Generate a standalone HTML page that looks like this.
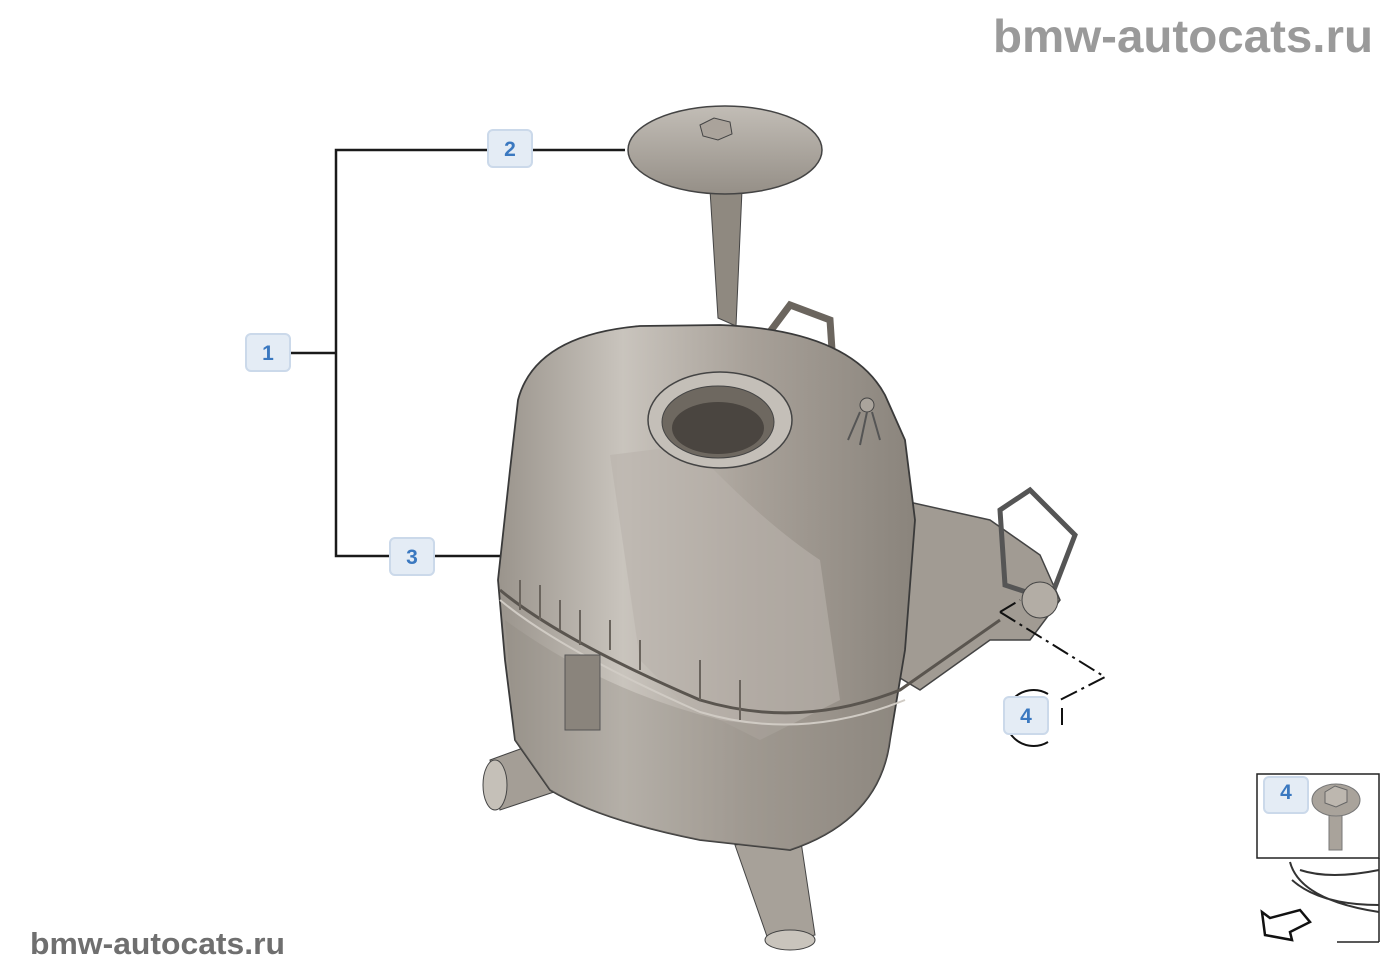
<!DOCTYPE html>
<html><head><meta charset="utf-8"><style>
html,body{margin:0;padding:0;background:#fff;}
svg{display:block}
.lb{fill:#e4ecf5;stroke:#cbd9ea;stroke-width:2}
.lt{font-family:"Liberation Sans",sans-serif;font-weight:bold;font-size:21px;fill:#3a78c0;text-anchor:middle}
.wm{font-family:"Liberation Sans",sans-serif;font-weight:bold;fill:#9a9a9a}
</style></head><body>
<svg width="1400" height="980" viewBox="0 0 1400 980" xmlns="http://www.w3.org/2000/svg">
<defs>
<linearGradient id="g1" x1="0" y1="0" x2="1" y2="0">
<stop offset="0" stop-color="#9a948c"/><stop offset="0.3" stop-color="#c9c4bd"/><stop offset="0.6" stop-color="#a8a199"/><stop offset="1" stop-color="#8a847c"/></linearGradient>
<linearGradient id="g2" x1="0" y1="0" x2="0" y2="1">
<stop offset="0" stop-color="#c2bdb6"/><stop offset="1" stop-color="#958f87"/></linearGradient>
</defs>
<text x="1373" y="52" class="wm" font-size="46" text-anchor="end" textLength="380" lengthAdjust="spacingAndGlyphs">bmw-autocats.ru</text>
<text x="30" y="954" class="wm" font-size="31" style="fill:#6f6f6f" textLength="255" lengthAdjust="spacingAndGlyphs">bmw-autocats.ru</text>

<g stroke="#1a1a1a" stroke-width="2.5" fill="none">
<path d="M498 150 H336 V556 H398"/>
<path d="M280 353 H336"/>
<path d="M522 150 H625"/>
<path d="M424 556 H500"/>
</g>

<polygon points="710,190 742,190 736,326 718,318" fill="#8f8980" stroke="#444" stroke-width="1"/>
<ellipse cx="725" cy="150" rx="97" ry="44" fill="url(#g2)" stroke="#444" stroke-width="1.5"/>
<polygon points="700,125 714,118 730,122 732,134 718,140 703,136" fill="#aaa39b" stroke="#444"/>

<path d="M490 760 L545 740 L560 790 L500 810 Z" fill="#a49e96" stroke="#444"/>
<ellipse cx="495" cy="785" rx="12" ry="25" fill="#c5c0b8" stroke="#444"/>
<path d="M735 845 L800 835 L815 935 L770 945 Z" fill="#a7a199" stroke="#444"/>
<ellipse cx="790" cy="940" rx="25" ry="10" fill="#c9c4bc" stroke="#444"/>

<path d="M900 500 L990 520 L1040 555 L1060 600 L1030 640 L990 640 L920 690 L870 660 L860 560 Z" fill="#a19b93" stroke="#444" stroke-width="1.5"/>
<path d="M1000 510 L1030 490 L1075 535 L1050 600 L1005 585 Z" fill="none" stroke="#555" stroke-width="5"/>
<circle cx="1040" cy="600" r="18" fill="#b3ada5" stroke="#444"/>

<path d="M760 345 L790 305 L830 320 L835 395 L800 380" fill="none" stroke="#6b655e" stroke-width="7"/>

<path d="M518 400 Q535 335 640 326 L720 325 Q850 330 885 395 L905 440 L915 520 L905 650 L890 740 Q880 820 790 850 L700 840 Q600 820 550 790 L515 740 L505 660 L498 580 L510 470 Z" fill="url(#g1)" stroke="#3a3a3a" stroke-width="1.8"/>
<path d="M610 455 L690 445 Q760 520 820 560 L840 700 L760 740 L680 700 L640 660 Z" fill="#b9b3ab" opacity="0.6"/>
<path d="M505 620 Q600 690 720 720 Q820 735 895 700 L890 740 Q880 820 790 850 L700 840 Q600 820 550 790 L515 740 Z" fill="#8f8981" opacity="0.35"/>
<path d="M500 590 Q560 640 700 700 Q800 730 900 690 L1000 620" fill="none" stroke="#5a554f" stroke-width="3"/>
<path d="M500 600 Q560 650 700 712 Q800 742 905 700" fill="none" stroke="#d0cbc4" stroke-width="2"/>
<g stroke="#6a645d" stroke-width="2">
<path d="M520 580 v30 M540 585 v35 M560 600 v30 M580 610 v35 M610 620 v30 M640 640 v30 M700 660 v40 M740 680 v40"/>
</g>
<rect x="565" y="655" width="35" height="75" fill="#8a847c" stroke="#555"/>
<ellipse cx="720" cy="420" rx="72" ry="48" fill="#c4bfb8" stroke="#444" stroke-width="1.5"/>
<ellipse cx="718" cy="422" rx="56" ry="36" fill="#6e6860" stroke="#444"/>
<ellipse cx="718" cy="428" rx="46" ry="26" fill="#4a4540"/>
<circle cx="867" cy="405" r="7" fill="#aaa49c" stroke="#444"/>
<path d="M860 412 L848 440 M867 412 L860 445 M872 412 L880 440" stroke="#555" stroke-width="2"/>

<path d="M1000 612 L1020 600 M1000 612 L1105 677 L1060 700" fill="none" stroke="#111" stroke-width="2" stroke-dasharray="18 5 3 5"/>
<path d="M1048 694 A28 28 0 1 0 1048 742" fill="none" stroke="#111" stroke-width="2"/>
<line x1="1062" y1="708" x2="1062" y2="725" stroke="#111" stroke-width="2"/>

<rect x="246" y="334" width="44" height="37" rx="5" class="lb"/><text x="268" y="360" class="lt">1</text>
<rect x="488" y="130" width="44" height="37" rx="5" class="lb"/><text x="510" y="156" class="lt">2</text>
<rect x="390" y="538" width="44" height="37" rx="5" class="lb"/><text x="412" y="564" class="lt">3</text>
<rect x="1004" y="697" width="44" height="37" rx="5" class="lb"/><text x="1026" y="723" class="lt">4</text>

<rect x="1257" y="774" width="122" height="84" fill="#fff" stroke="#222" stroke-width="1.5"/>
<rect x="1264" y="777" width="44" height="36" rx="5" class="lb"/><text x="1286" y="799" class="lt">4</text>
<path d="M1329 812 h13 v38 h-13 z" fill="#a9a39b" stroke="#777"/>
<ellipse cx="1336" cy="800" rx="24" ry="16" fill="#a9a39b" stroke="#777"/>
<polygon points="1325,792 1335,786 1347,790 1347,802 1336,807 1325,803" fill="#bdb7af" stroke="#666"/>
<line x1="1379" y1="858" x2="1379" y2="942" stroke="#222" stroke-width="1.5"/>
<line x1="1337" y1="942" x2="1379" y2="942" stroke="#222" stroke-width="1.5"/>
<path d="M1290 862 Q1300 900 1379 912 M1300 870 Q1330 880 1379 870 M1292 880 Q1320 905 1379 905" fill="none" stroke="#333" stroke-width="2"/>
<path d="M1300 910 L1310 922 L1290 932 L1292 940 L1265 935 L1262 912 L1270 918 Z" fill="#fff" stroke="#111" stroke-width="2.5"/>
</svg>
</body></html>
